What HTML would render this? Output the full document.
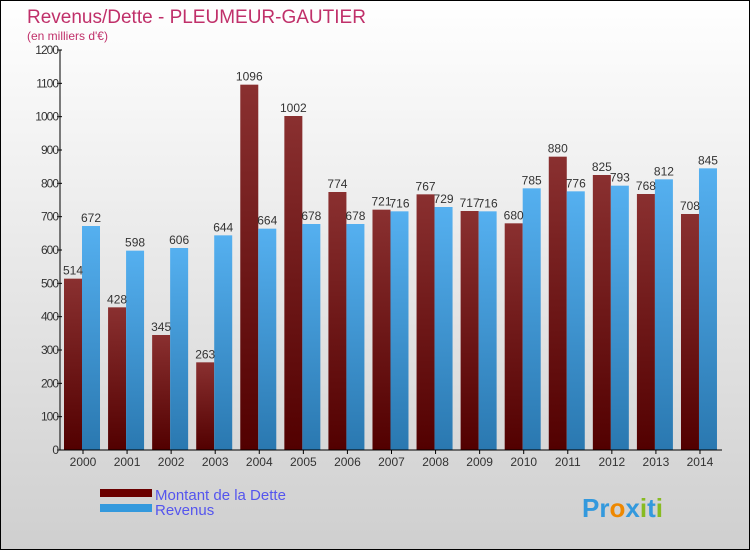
<!DOCTYPE html>
<html><head><meta charset="utf-8"><style>
body{margin:0;}
svg{display:block;font-family:"Liberation Sans",sans-serif;}
</style></head><body>
<svg id="chart" width="750" height="550" viewBox="0 0 750 550">
<defs>
<linearGradient id="bg" x1="0" y1="0" x2="0" y2="1"><stop offset="0" stop-color="#ffffff"/><stop offset="1" stop-color="#cfcfcf"/></linearGradient>
<linearGradient id="gd" x1="0" y1="0" x2="0" y2="1"><stop offset="0" stop-color="#8a3030"/><stop offset="1" stop-color="#520000"/></linearGradient>
<linearGradient id="gr" x1="0" y1="0" x2="0" y2="1"><stop offset="0" stop-color="#55b0f0"/><stop offset="1" stop-color="#2a78b0"/></linearGradient>
</defs>
<rect x="0.5" y="0.5" width="749" height="549" fill="url(#bg)" stroke="#000"/>
<text x="27" y="23" font-size="19" fill="#c0306a">Revenus/Dette - PLEUMEUR-GAUTIER</text>
<text x="27" y="40" font-size="12" fill="#c0306a">(en milliers d'€)</text>
<g id="bars"></g>
<g id="axes"></g>
<g>
<rect x="100" y="489" width="52" height="8" fill="#6a0000"/>
<text x="155" y="500" font-size="15" fill="#5555ee">Montant de la Dette</text>
<rect x="100" y="504" width="52" height="8" fill="#3399dd"/>
<text x="155" y="515" font-size="15" fill="#5555ee">Revenus</text>
</g>
<text x="582" y="517" font-size="26" font-weight="bold" fill="#3399dd">Pr<tspan fill="#ee8800">o</tspan>x<tspan fill="#88bb22">i</tspan>t<tspan fill="#88bb22">i</tspan></text>
</svg>
<script>
const years=["2000","2001","2002","2003","2004","2005","2006","2007","2008","2009","2010","2011","2012","2013","2014"];
const dette=[514,428,345,263,1096,1002,774,721,767,717,680,880,825,768,708];
const revenus=[672,598,606,644,664,678,678,716,729,716,785,776,793,812,845];
const yTicks=[0,100,200,300,400,500,600,700,800,900,1000,1100,1200];
const NS="http://www.w3.org/2000/svg";
const y0=450,yTop=50,yMax=1200;
function yS(v){return y0-(v/yMax)*(y0-yTop);}
function xC(i){return 83+i*44.07;}
function mk(t,a,p){const e=document.createElementNS(NS,t);for(const k in a)e.setAttribute(k,a[k]);p.appendChild(e);return e;}
const bars=document.getElementById('bars'),axes=document.getElementById('axes');
years.forEach((yr,i)=>{
 const c=xC(i);
 const b1=mk('rect',{x:c-19,y:yS(dette[i]),width:18,height:y0-yS(dette[i]),fill:'url(#gd)'},bars);
 
 
 const b2=mk('rect',{x:c-1,y:yS(revenus[i]),width:18,height:y0-yS(revenus[i]),fill:'url(#gr)'},bars);
 
 
 const t1=mk('text',{x:c-10,y:yS(dette[i])-4,'font-size':12,fill:'#333','text-anchor':'middle'},bars);
 t1.textContent=dette[i];
 
 
 const t2=mk('text',{x:c+8,y:yS(revenus[i])-4,'font-size':12,fill:'#333','text-anchor':'middle'},bars);
 t2.textContent=revenus[i];
 
 
 const xl=mk('text',{x:c,y:466,'font-size':12,fill:'#333','text-anchor':'middle'},axes);
 xl.textContent=yr;
 
 
 mk('line',{x1:c,x2:c,y1:450,y2:454,stroke:'#000'},axes);
});
const ya=mk('line',{x1:60,x2:60,y1:50,y2:450,stroke:'#000'},axes);


const xa=mk('line',{x1:60,x2:722,y1:450,y2:450,stroke:'#000'},axes);


yTicks.forEach(v=>{
 mk('line',{x1:57,x2:62,y1:yS(v),y2:yS(v),stroke:'#000'},axes);
 const t=mk('text',{x:58,y:yS(v)+4,'font-size':12,fill:'#333','text-anchor':'end','letter-spacing':'-1'},axes);
 t.textContent=v;
 
 
});
</script>
</body></html>
